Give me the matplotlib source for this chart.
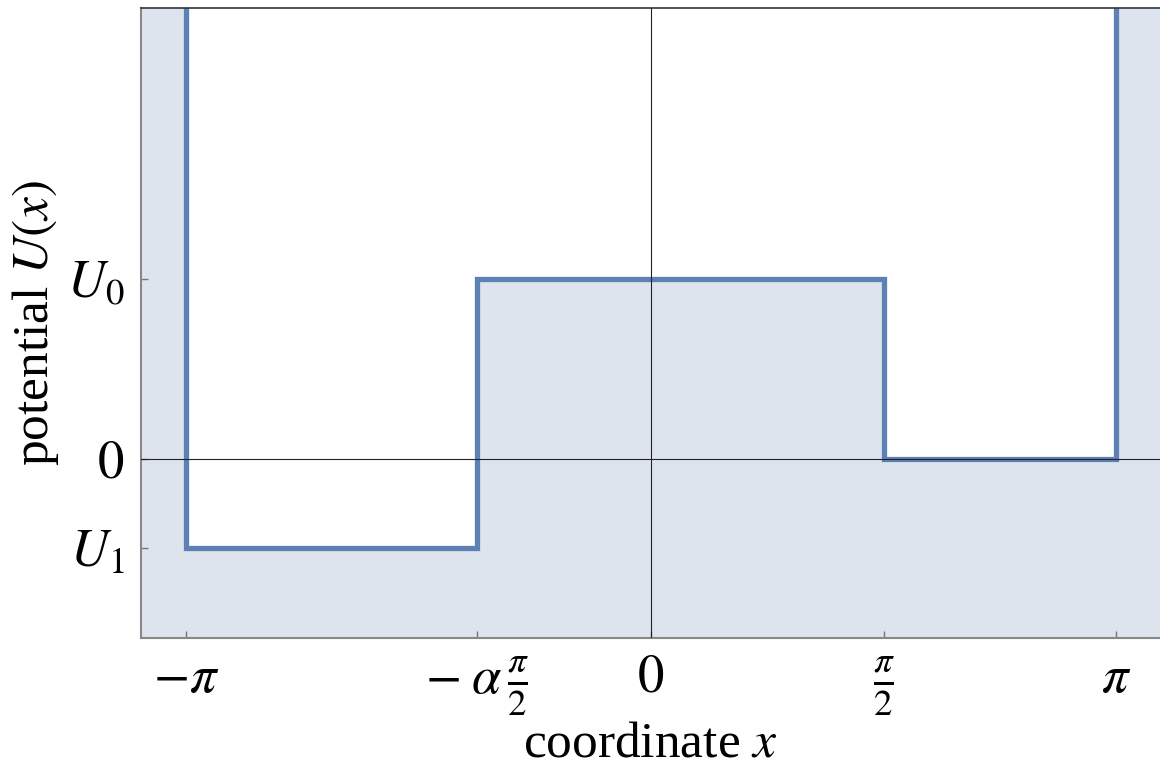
import numpy as np
import matplotlib.pyplot as plt

plt.rcParams['font.family'] = 'Liberation Serif'
plt.rcParams['mathtext.fontset'] = 'stix'

# Potencial em degraus dentro do poço infinito
alpha = 0.75
U0 = 1.0
U1 = -0.5
bordas = [-np.pi, -alpha * np.pi / 2, np.pi / 2, np.pi]
niveis = [U1, U0, 0.0]
parede = 10.0  # paredes infinitas fora de [-pi, pi]

xticks = [-np.pi, -alpha * np.pi / 2, 0, np.pi / 2, np.pi]
xtick_labels = [r'$-\pi$', r'$-\;\alpha\,\frac{\pi}{2}$', r'$0$', r'$\frac{\pi}{2}$', r'$\pi$']
yticks = [U1, 0.0, U0]
ytick_labels = [r'$U_1$', r'$0$', r'$U_0$']

xmin, xmax = -3.446, 3.439
ymin, ymax = -1.0, 2.51

cor_linha = '#5e81b5'
cor_fundo = '#dee4ee'

fig = plt.figure(figsize=(11.6, 7.66), dpi=100)
ax = fig.add_axes([141 / 1160, 1 - 638 / 766, 1 - 141 / 1160, (638 - 8) / 766])

valores = [parede] + niveis + [parede]
arestas = [xmin - 1] + bordas + [xmax + 1]

# Região preenchida abaixo do potencial
ax.stairs(valores, arestas, baseline=ymin - 1, fill=True, color=cor_fundo, zorder=1)
ax.stairs(valores, arestas, baseline=None, color=cor_linha, linewidth=3.8, zorder=2)

# Eixos coordenados
ax.axhline(0, color='#222222', linewidth=0.8, zorder=3)
ax.axvline(0, color='#222222', linewidth=0.8, zorder=3)

ax.set_xlim(xmin, xmax)
ax.set_ylim(ymin, ymax)

ax.set_xticks(xticks)
ax.set_xticklabels(xtick_labels, fontsize=38)
ax.set_yticks(yticks)
ax.set_yticklabels(ytick_labels, fontsize=38)
ax.tick_params(direction='in', length=5, width=1, color='#777777', pad=12)

for lado in ['left', 'bottom']:
    ax.spines[lado].set_color('#888888')
    ax.spines[lado].set_linewidth(1.5)
ax.spines['top'].set_color('#333333')
ax.spines['top'].set_linewidth(1.2)
ax.spines['right'].set_visible(False)

ax.set_xlabel(r'coordinate $x$', fontsize=37, labelpad=2)
ax.set_ylabel(r'potential $U(x)$', fontsize=37, labelpad=4)

plt.savefig('out.png', dpi=100, facecolor='white')
